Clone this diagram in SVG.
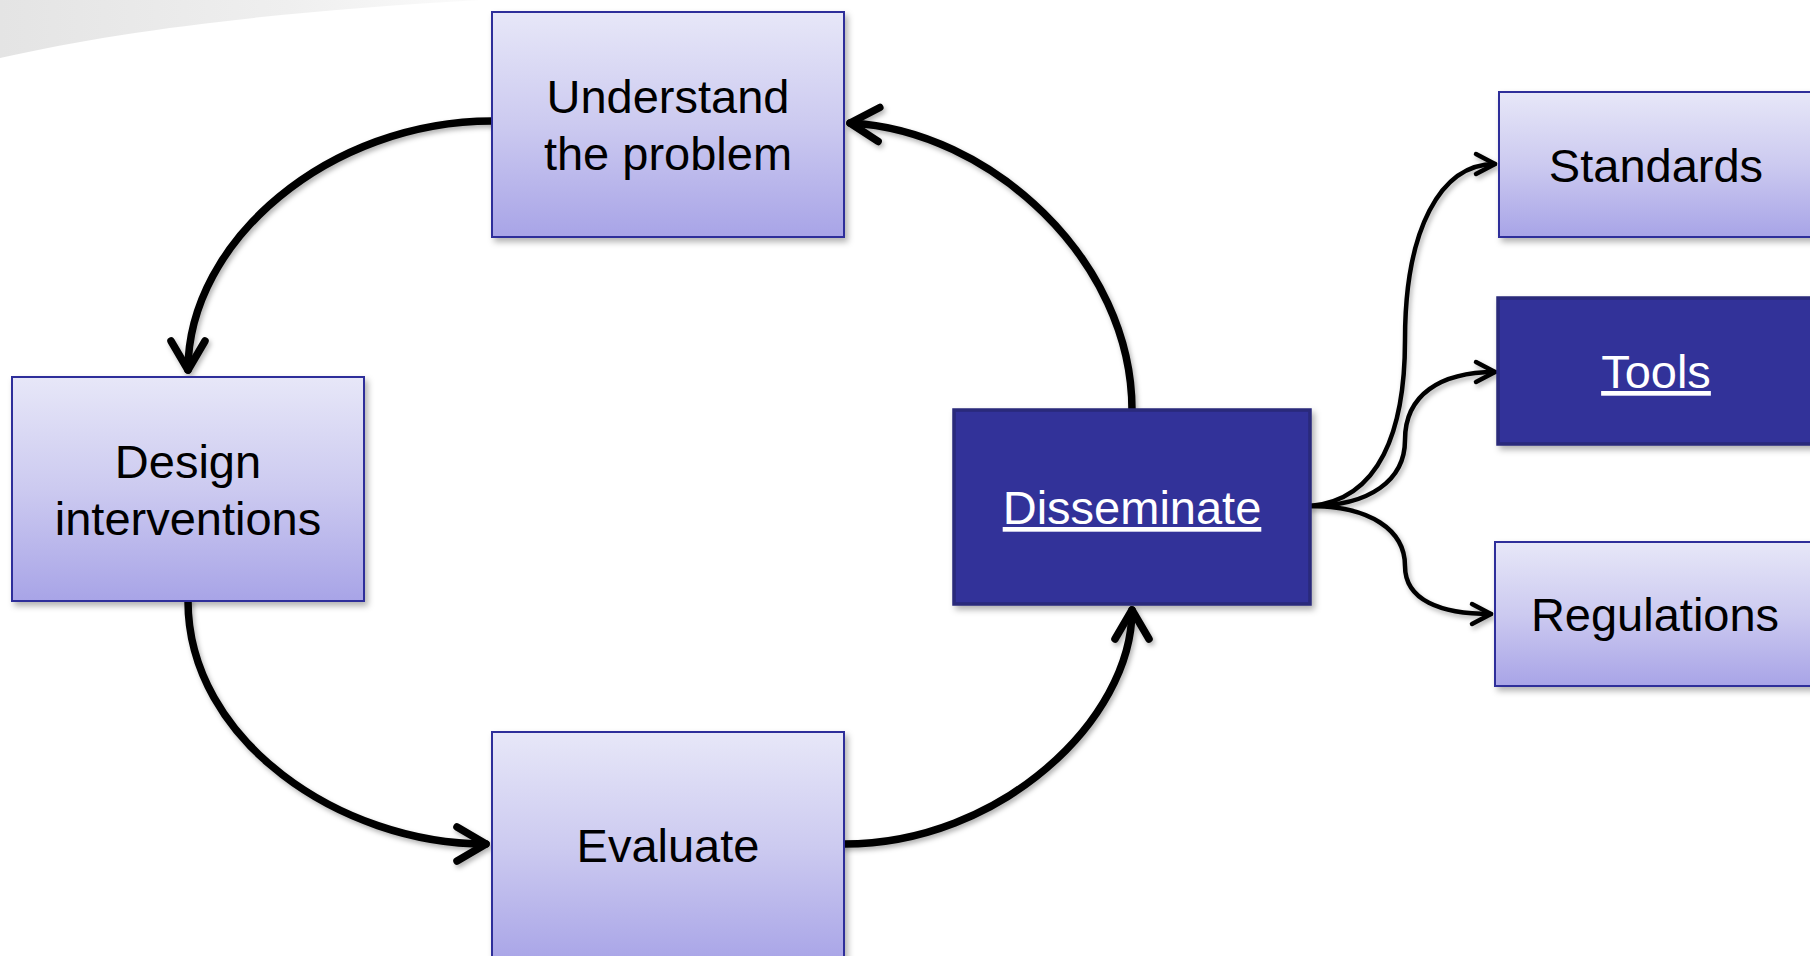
<svg xmlns="http://www.w3.org/2000/svg" width="1810" height="956" viewBox="0 0 1810 956">
  <defs>
    <linearGradient id="boxFill" x1="0" y1="0" x2="0" y2="1">
      <stop offset="0" stop-color="#E7E7F8"/>
      <stop offset="0.5" stop-color="#CCCAF0"/>
      <stop offset="1" stop-color="#A8A4E7"/>
    </linearGradient>
    <linearGradient id="swoosh" x1="0" y1="0" x2="1" y2="0">
      <stop offset="0" stop-color="#E4E4E4"/>
      <stop offset="0.6" stop-color="#EFEFEF"/>
      <stop offset="1" stop-color="#FBFBFB"/>
    </linearGradient>
    <filter id="shadow" x="-10%" y="-10%" width="130%" height="130%">
      <feDropShadow dx="3" dy="4" stdDeviation="3" flood-color="#000" flood-opacity="0.3"/>
    </filter>
    <filter id="lineShadow" x="-10%" y="-10%" width="130%" height="130%">
      <feDropShadow dx="2" dy="3" stdDeviation="2.5" flood-color="#000" flood-opacity="0.3"/>
    </filter>
    <marker id="chevBig" markerUnits="userSpaceOnUse" viewBox="-40 -24 46 48" markerWidth="46" markerHeight="48" refX="0" refY="0" orient="auto" overflow="visible">
      <path d="M -29 -17 L 0 0 L -29 17" fill="none" stroke="#000" stroke-width="7.5" stroke-linecap="round" stroke-linejoin="round"/>
    </marker>
    <marker id="chevSmall" markerUnits="userSpaceOnUse" viewBox="-26 -16 32 32" markerWidth="32" markerHeight="32" refX="0" refY="0" orient="auto" overflow="visible">
      <path d="M -19 -10 L 0 0 L -19 10" fill="none" stroke="#000" stroke-width="4.5" stroke-linecap="round" stroke-linejoin="round"/>
    </marker>
  </defs>
  <style>
    .light { fill: url(#boxFill); stroke: #2E2E9A; stroke-width: 2; filter: url(#shadow); }
    .dark { fill: #333399; stroke: #29297A; stroke-width: 3.5; filter: url(#shadow); }
    .lbl { font-family: "Liberation Sans", Arial, sans-serif; font-size: 47px; text-anchor: middle; fill: #000; }
    .lblDark { font-family: "Liberation Sans", Arial, sans-serif; font-size: 47px; text-anchor: middle; fill: #FFF; text-decoration: underline; }
    .loop { fill: none; stroke: #000; stroke-width: 7.5; stroke-linecap: round; marker-end: url(#chevBig); }
    .fan { fill: none; stroke: #000; stroke-width: 4.5; stroke-linecap: round; marker-end: url(#chevSmall); }
  </style>

  <rect width="1810" height="956" fill="#FFFFFF"/>
  <!-- decorative background sweep, top left -->
  <path d="M 0 0 L 480 0 C 300 10, 130 28, 0 58 Z" fill="url(#swoosh)"/>

  <g id="connectors" filter="url(#lineShadow)">
    <path class="loop" d="M 492 121 C 330 121, 188 240, 188 370"/>
    <path class="loop" d="M 188 601 C 188 740, 340 844, 486 844"/>
    <path class="loop" d="M 844 844 C 1000 844, 1132 720, 1132 610"/>
    <path class="loop" d="M 1132 410 C 1132 260, 990 130, 850 123"/>
    <path class="fan" d="M 1310 506 C 1380 500, 1405 430, 1405 340 C 1405 230, 1440 164, 1495 164"/>
    <path class="fan" d="M 1310 506 C 1370 506, 1405 480, 1405 440 C 1405 395, 1440 372, 1495 372"/>
    <path class="fan" d="M 1310 506 C 1370 506, 1405 530, 1405 566 C 1405 600, 1440 614, 1491 614"/>
  </g>

  <g id="understand">
    <rect class="light" x="492" y="12" width="352" height="225"/>
    <text class="lbl" x="668" y="113">Understand</text>
    <text class="lbl" x="668" y="170">the problem</text>
  </g>
  <g id="design">
    <rect class="light" x="12" y="377" width="352" height="224"/>
    <text class="lbl" x="188" y="478">Design</text>
    <text class="lbl" x="188" y="535">interventions</text>
  </g>
  <g id="evaluate">
    <rect class="light" x="492" y="732" width="352" height="232"/>
    <text class="lbl" x="668" y="862">Evaluate</text>
  </g>
  <g id="disseminate">
    <rect class="dark" x="954" y="410" width="356" height="194"/>
    <text class="lblDark" x="1132" y="524">Disseminate</text>
  </g>
  <g id="standards">
    <rect class="light" x="1499" y="92" width="330" height="145"/>
    <text class="lbl" x="1656" y="182">Standards</text>
  </g>
  <g id="tools">
    <rect class="dark" x="1498" y="298" width="330" height="146"/>
    <text class="lblDark" x="1656" y="388">Tools</text>
  </g>
  <g id="regulations">
    <rect class="light" x="1495" y="542" width="330" height="144"/>
    <text class="lbl" x="1655" y="631">Regulations</text>
  </g>
</svg>
